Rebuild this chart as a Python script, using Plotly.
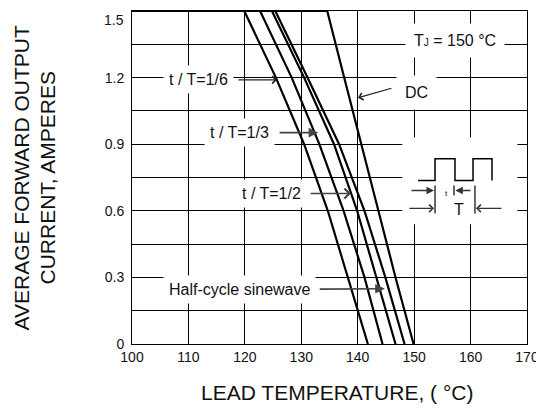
import plotly.graph_objects as go

# ---- data ----
amps = [1.5, 1.5, 1.2, 0.9, 0.6, 0.3, 0.0]
t_1_6 = [100, 119.9, 125.5, 130.5, 134.7, 138.3, 141.8]
t_1_3 = [100, 122.7, 128.3, 133.2, 137.5, 141.2, 144.4]
t_1_2 = [100, 124.8, 130.5, 135.8, 139.9, 143.3, 146.7]
t_sine = [100, 125.4, 131.1, 136.7, 141.2, 144.9, 148.3]
t_dc = [100, 134.6, 137.6, 140.6, 143.6, 146.7, 149.9]

x_ticks = [100, 110, 120, 130, 140, 150, 160, 170]
x_ticktext = ["100", "110", "120", "130", "140", "150", "160", "170"]
y_ticks = [0, 0.15, 0.3, 0.45, 0.6, 0.75, 0.9, 1.05, 1.2, 1.35, 1.5]
y_ticktext = ["0", "", "0.3", "", "0.6", "", "0.9", "", "1.2", "", "1.5"]
y_title_lines = ["AVERAGE FORWARD OUTPUT", "CURRENT, AMPERES"]
x_title = "LEAD TEMPERATURE, ( °C)"

FONT = "Liberation Sans, Arial, sans-serif"

fig = go.Figure()
for xs in [t_1_6, t_1_3, t_1_2, t_sine, t_dc]:
    fig.add_trace(go.Scatter(x=xs, y=amps, mode="lines",
                             line=dict(color="black", width=2.2),
                             showlegend=False, hoverinfo="skip"))

ann = []
def label(x, y, text, size=16, pad=6):
    ann.append(dict(x=x, y=y, xref="x", yref="y", text=text, showarrow=False,
                    font=dict(family=FONT, size=size, color="#111"),
                    bgcolor="white", borderpad=pad, xanchor="center", yanchor="middle"))

def arrow(x0, y0, x1, y1, head=4, width=1.2, color="#222", size=1.2):
    ann.append(dict(x=x1, y=y1, ax=x0, ay=y0, xref="x", yref="y", axref="x", ayref="y",
                    text="", showarrow=True, arrowhead=head, arrowsize=size,
                    arrowwidth=width, arrowcolor=color))

label(157.2, 1.365, "T<span style='font-size:10px'>J</span> = 150 °C", pad=8)
label(150.5, 1.132, "DC", pad=8)
arrow(146.25, 1.154, 140.05, 1.109, head=4)
label(111.7, 1.19, "t / T=1/6", pad=5)
arrow(118.6, 1.19, 125.7, 1.19, head=4)
label(119.1, 0.952, "t / T=1/3", pad=5)
arrow(125.9, 0.952, 133.0, 0.952, head=2, width=1.6, color="#444")
label(124.8, 0.678, "t / T=1/2", pad=5)
arrow(131.4, 0.678, 138.8, 0.678, head=4, width=1.6, color="#444")
label(119.0, 0.244, "Half-cycle sinewave", pad=5)
arrow(133.0, 0.247, 144.8, 0.249, head=2, width=1.6, color="#444")

# pulse inset
shapes = [dict(type="rect", xref="x", yref="y", x0=147.9, x1=168.3, y0=0.539, y1=0.93,
               fillcolor="white", line=dict(width=0), layer="above"),
          dict(type="path", xref="x", yref="y",
               path="M150.68,0.7365 L153.7,0.7365 L153.7,0.835 L157.24,0.835 L157.24,0.7365 "
                    "L160.43,0.7365 L160.43,0.835 L163.8,0.835 L163.8,0.7365",
               line=dict(color="black", width=1.5), layer="above")]
for (x, y0, y1) in [(153.7, 0.714, 0.588), (157.06, 0.714, 0.669), (160.78, 0.714, 0.588)]:
    shapes.append(dict(type="line", xref="x", yref="y", x0=x, x1=x, y0=y0, y1=y1,
                       line=dict(color="black", width=1.2), layer="above"))
arrow(149.27, 0.6916, 153.52, 0.6916, head=2, width=1.5, color="#333", size=1)
arrow(160.25, 0.6916, 157.3, 0.6916, head=2, width=1.5, color="#333", size=1)
arrow(148.9, 0.611, 153.52, 0.611, head=4, width=1.2, color="#333")
arrow(165.75, 0.611, 160.96, 0.611, head=4, width=1.2, color="#333")
ann.append(dict(x=155.82, y=0.678, xref="x", yref="y", text="t", showarrow=False,
                font=dict(family=FONT, size=8, color="#111")))
ann.append(dict(x=157.95, y=0.605, xref="x", yref="y", text="T", showarrow=False,
                font=dict(family=FONT, size=16, color="#111")))

# top tick label (would be clipped as a regular tick label)
ann.append(dict(x=0, y=y_ticks[-1], xref="paper", yref="y", text=y_ticktext[-1],
                showarrow=False, xanchor="right", yanchor="top", xshift=-6, yshift=1,
                font=dict(family=FONT, size=14, color="#111")))
shown_y_text = y_ticktext[:-1] + [""]

# axis titles
for xp, line in zip([-0.2785, -0.2127], y_title_lines):
    ann.append(dict(x=xp, y=0.5, xref="paper", yref="paper", showarrow=False,
                    xanchor="center", yanchor="middle", borderpad=0,
                    text=line, textangle=-90,
                    font=dict(family=FONT, size=21, color="#111")))
ann.append(dict(x=0.519, y=-0.147, xref="paper", yref="paper", showarrow=False,
                xanchor="center", yanchor="middle",
                text=x_title,
                font=dict(family=FONT, size=21, color="#111")))

fig.update_layout(
    width=536, height=400, margin=dict(l=124, r=17, t=3, b=64),
    paper_bgcolor="white", plot_bgcolor="white",
    annotations=ann, shapes=shapes, showlegend=False,
    font=dict(family=FONT, size=14, color="#111"),
)
fig.update_xaxes(range=[100, 170], tickvals=x_ticks, ticktext=x_ticktext,
                 showgrid=True, gridcolor="black", gridwidth=1, zeroline=False,
                 showline=True, linecolor="black", linewidth=1, mirror=True,
                 ticks="", tickfont=dict(size=14))
fig.update_yaxes(range=[0, 1.5], tickvals=y_ticks, ticktext=shown_y_text,
                 showgrid=True, gridcolor="black", gridwidth=1, zeroline=False,
                 showline=True, linecolor="black", linewidth=1, mirror=True,
                 ticks="", tickfont=dict(size=14), ticklabelstandoff=4)

fig.write_html("out.html")
